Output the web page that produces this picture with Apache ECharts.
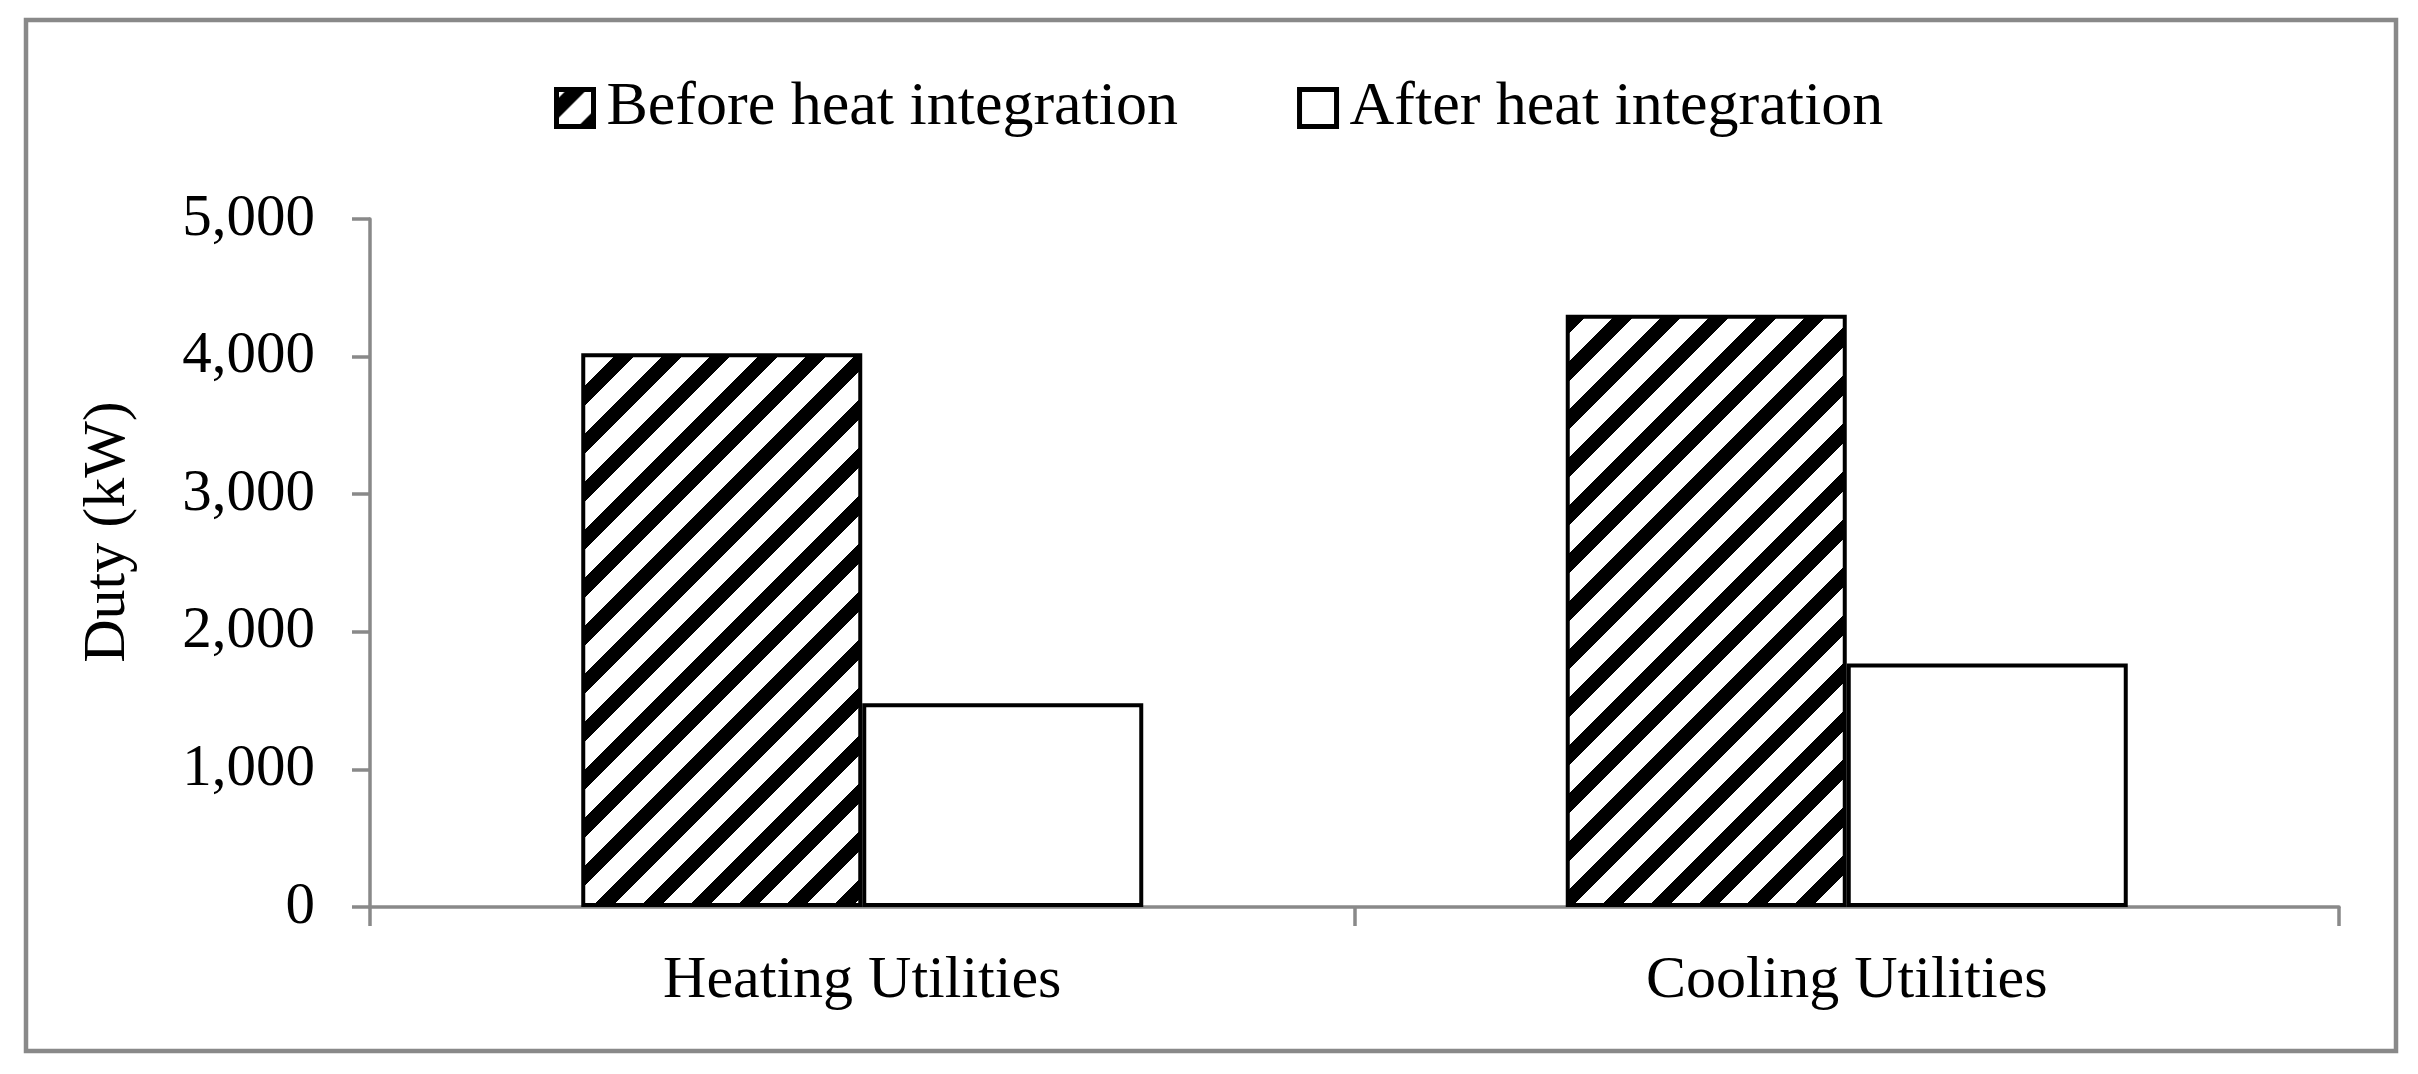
<!DOCTYPE html>
<html>
<head>
<meta charset="utf-8">
<script src="https://cdn.jsdelivr.net/npm/echarts@6/dist/echarts.min.js"></script>
<style>
  html, body { margin: 0; padding: 0; background: #fff; }
  #chart { width: 2418px; height: 1074px; }
</style>
</head>
<body>
<div id="chart"></div>
<script>
// data
const categories = ["Heating Utilities", "Cooling Utilities"];
const beforeValues = [4025, 4305];
const afterValues = [1480, 1770];
const seriesNames = ["Before heat integration", "After heat integration"];
const yMin = 0;
const yMax = 5000;
const yStep = 1000;

const serif = "Liberation Serif";
const axisGrey = "#898989";

// diagonal hatch tile, "/" stripes
const makeHatch = () => {
  const size = 48;
  const c = document.createElement("canvas");
  c.width = size;
  c.height = size;
  const ctx = c.getContext("2d");
  const img = ctx.createImageData(size, size);
  for (let y = 0; y < size; y++) {
    for (let x = 0; x < size; x++) {
      const k = (((x + y - 10) % size) + size) % size;
      const v = k < 20 ? 0 : 255;
      const i = (y * size + x) * 4;
      img.data[i] = v;
      img.data[i + 1] = v;
      img.data[i + 2] = v;
      img.data[i + 3] = 255;
    }
  }
  ctx.putImageData(img, 0, 0);
  return c;
};

const myChart = echarts.init(document.getElementById("chart"));

const option = {
  animation: false,
  backgroundColor: "#fff",
  graphic: [
    {
      type: "rect",
      z: -1,
      shape: { x: 26, y: 20, width: 2370, height: 1031 },
      style: { fill: "none", stroke: axisGrey, lineWidth: 4.5 }
    }
  ],
  legend: {
    left: 549,
    top: 72,
    itemWidth: 37,
    itemHeight: 37,
    itemGap: 119,
    icon: "rect",
    itemStyle: { borderColor: "#000", borderWidth: 5 },
    textStyle: {
      fontFamily: serif,
      fontSize: 62,
      color: "#000",
      padding: [0, 0, 0, 8]
    },
    data: seriesNames
  },
  grid: {
    left: 370,
    right: 79,
    top: 219,
    bottom: 167,
    outerBoundsMode: "none"
  },
  xAxis: {
    type: "category",
    data: categories,
    axisLine: { lineStyle: { color: axisGrey, width: 3.5 } },
    axisTick: { show: true, length: 19, lineStyle: { color: axisGrey, width: 3.5 } },
    axisLabel: {
      margin: 44,
      fontFamily: serif,
      fontSize: 60,
      color: "#000"
    }
  },
  yAxis: {
    type: "value",
    min: yMin,
    max: yMax,
    interval: yStep,
    name: "Duty (kW)",
    nameLocation: "middle",
    nameRotate: 90,
    nameGap: 232,
    nameTextStyle: {
      fontFamily: serif,
      fontSize: 60,
      color: "#000",
      padding: [0, 0, 0, 62]
    },
    splitLine: { show: false },
    axisLine: { show: true, lineStyle: { color: axisGrey, width: 3.5 } },
    axisTick: { show: true, length: 18, lineStyle: { color: axisGrey, width: 3.5 } },
    axisLabel: {
      margin: 55,
      fontFamily: serif,
      fontSize: 59,
      color: "#000",
      formatter: v => v.toLocaleString("en-US")
    }
  },
  series: [
    {
      name: seriesNames[0],
      type: "bar",
      barWidth: 281,
      barGap: "0%",
      itemStyle: {
        color: { image: makeHatch(), repeat: "repeat" },
        borderColor: "#000",
        borderWidth: 4
      },
      data: beforeValues
    },
    {
      name: seriesNames[1],
      type: "bar",
      barWidth: 281,
      barGap: "0%",
      itemStyle: {
        color: "#fff",
        borderColor: "#000",
        borderWidth: 4
      },
      data: afterValues
    }
  ]
};

myChart.setOption(option);
</script>
</body>
</html>
